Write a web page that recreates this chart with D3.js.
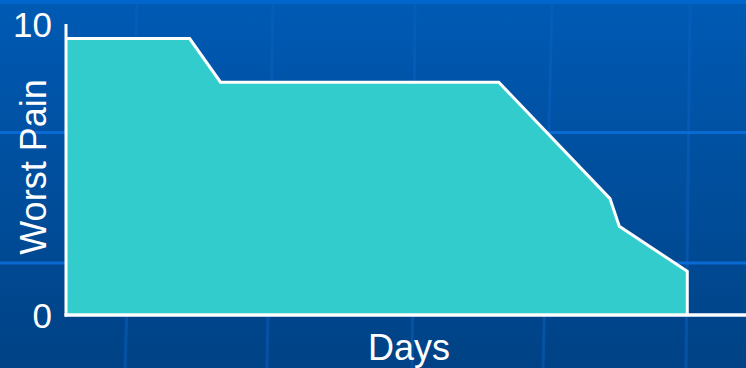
<!DOCTYPE html>
<html><head><meta charset="utf-8">
<script src="https://cdn.jsdelivr.net/npm/d3@7"></script>
<style>html,body{margin:0;padding:0;background:#004a96;}svg{display:block;}</style>
</head><body>
<svg id="chart" width="746" height="368"></svg>
<script>
// Data
const days = [0, 4, 5, 14, 17.6, 17.9, 20.1];
const worstPain = [9.5, 9.5, 8, 8, 4, 3.05, 1.5];
const yTickLabels = ["0", "10"];
const yTickValues = [0, 10];
const xTitle = "Days";
const yTitle = "Worst Pain";

const W = 746, H = 368;
const svg = d3.select("#chart");

// Background
const defs = svg.append("defs");
const grad = defs.append("linearGradient").attr("id", "bg").attr("x1", 0).attr("y1", 0).attr("x2", 0).attr("y2", 1);
grad.append("stop").attr("offset", "0%").attr("stop-color", "#005ab4");
grad.append("stop").attr("offset", "100%").attr("stop-color", "#004285");
svg.append("rect").attr("width", W).attr("height", H).attr("fill", "url(#bg)");
svg.append("rect").attr("width", W).attr("height", 4).attr("fill", "#0066cc");

// decorative template lines
const vLines = [[137, 125], [273, 267], [415, 412], [552, 543], [690, 686]];
svg.append("g").selectAll("line").data(vLines).join("line")
  .attr("x1", d => d[0]).attr("y1", 4).attr("x2", d => d[1]).attr("y2", H)
  .attr("stroke", "#0a62c2").attr("stroke-width", 3).attr("opacity", 0.5);
svg.append("g").selectAll("line").data([132.5, 263]).join("line")
  .attr("x1", 0).attr("x2", W).attr("y1", d => d).attr("y2", d => d)
  .attr("stroke", "#0a6ad4").attr("stroke-width", 3);

// Scales
const x = d3.scaleLinear().domain([0, 22]).range([66, 746]);
const y = d3.scaleLinear().domain([0, 10]).range([315, 24]);

const pts = days.map((d, i) => ({d, v: worstPain[i]}));

const area = d3.area().x(p => x(p.d)).y0(y(0)).y1(p => y(p.v));
svg.append("path").datum(pts).attr("d", area).attr("fill", "#33cccc");

const linePts = pts.concat([{d: days[days.length - 1], v: 0}]);
const line = d3.line().x(p => x(p.d)).y(p => y(p.v));
svg.append("path").datum(linePts).attr("d", line)
  .attr("fill", "none").attr("stroke", "#ffffff").attr("stroke-width", 3).attr("stroke-linejoin", "miter");

// Axes
const yAxis = d3.axisLeft(y).tickValues(yTickValues).tickFormat((d, i) => yTickLabels[i]).tickSize(0).tickPadding(14);
const gy = svg.append("g").attr("transform", `translate(${x(0)},0)`).call(yAxis);
gy.select(".domain").remove();
gy.selectAll("text").attr("fill", "#ffffff").attr("font-family", "Liberation Sans, Arial, sans-serif").attr("font-size", 35).attr("dy", "0.36em");

svg.append("line").attr("x1", x(0)).attr("x2", x(0)).attr("y1", y(10)).attr("y2", y(0) + 1.5)
  .attr("stroke", "#ffffff").attr("stroke-width", 3);
svg.append("line").attr("x1", x(0) - 1.5).attr("x2", W).attr("y1", y(0)).attr("y2", y(0))
  .attr("stroke", "#ffffff").attr("stroke-width", 3.5);

// Titles
svg.append("text").attr("x", 409).attr("y", 360).attr("text-anchor", "middle")
  .attr("fill", "#ffffff").attr("font-family", "Liberation Sans, Arial, sans-serif").attr("font-size", 36).text(xTitle);
svg.append("text").attr("transform", "translate(46,167) rotate(-90)").attr("text-anchor", "middle")
  .attr("fill", "#ffffff").attr("font-family", "Liberation Sans, Arial, sans-serif").attr("font-size", 36).text(yTitle);
</script>
</body></html>
